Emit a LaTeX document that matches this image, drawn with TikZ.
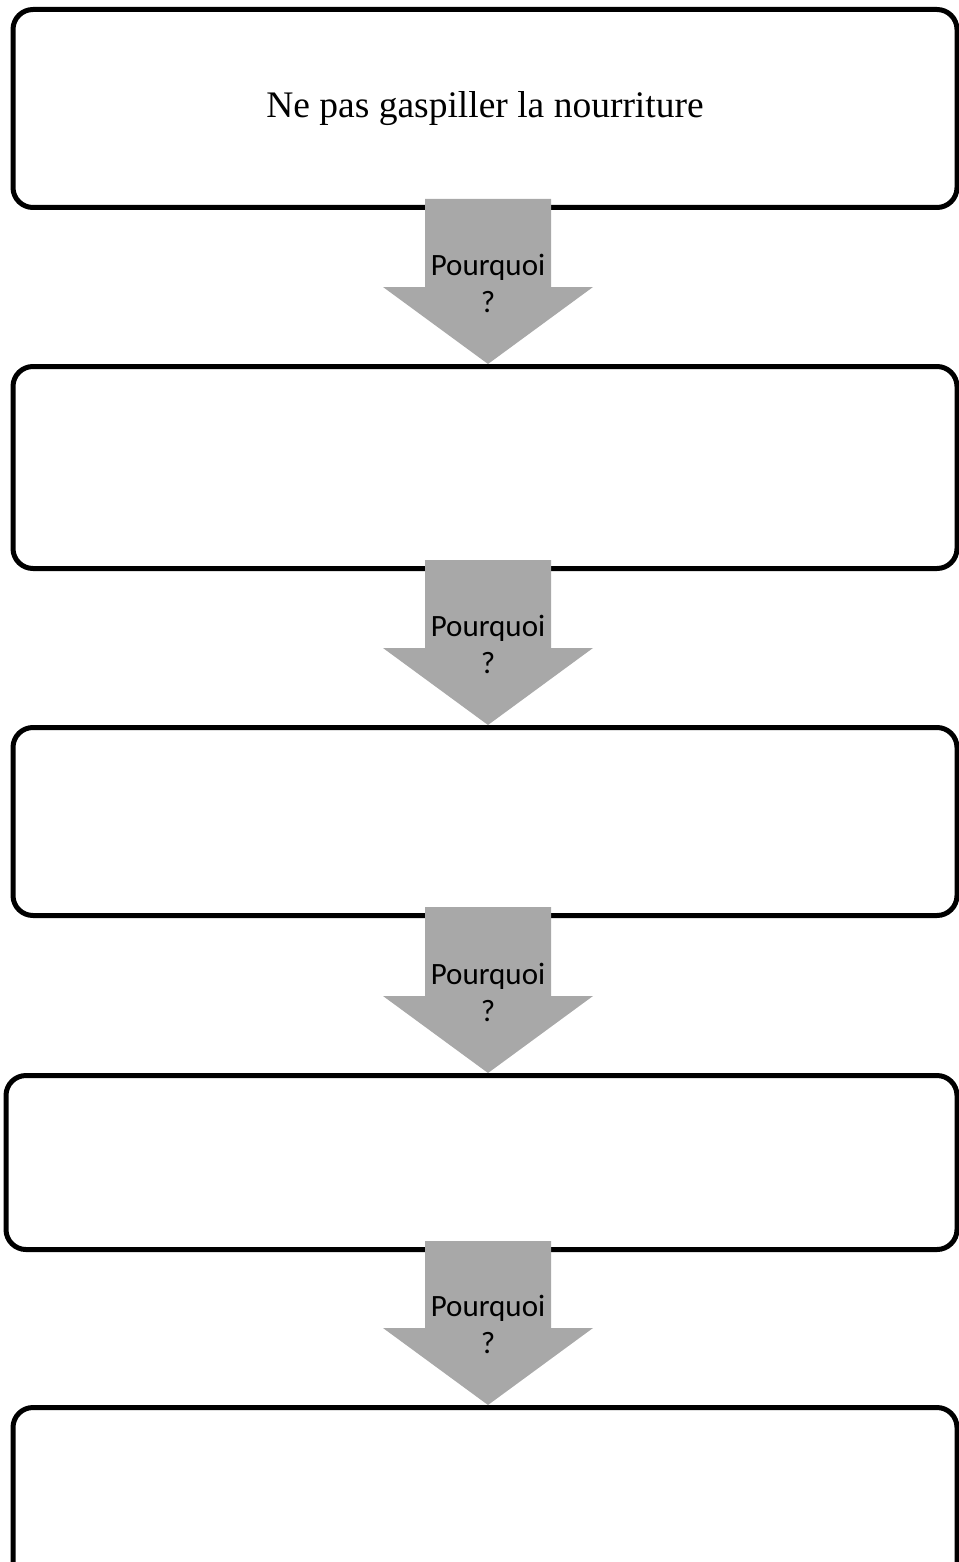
\documentclass[tikz,border=0pt]{standalone}
\usepackage{fontspec}
\setmainfont{Liberation Serif}
\newfontfamily\whyfont{Carlito}
\usetikzlibrary{calc}

\definecolor{whygray}{HTML}{A8A8A8}

\tikzset{
  answer/.style={draw, line width=5pt, rounded corners=20pt, inner sep=0pt,
    minimum width=944pt},
  whyfill/.style={fill=whygray},
  why/.style={inner sep=0pt, align=center, font=\whyfont\fontsize{31}{37}\selectfont},
}

\begin{document}
\begin{tikzpicture}[x=1pt,y=-1pt]
  \useasboundingbox (0,0) rectangle (958,1562);

  \node [answer,minimum height=198pt] (b1) at (485,108.5)
    {\fontsize{37.5}{44}\selectfont Ne pas gaspiller la nourriture};
  \node [answer,minimum height=202pt] (b2) at (485,467.5) {};
  \node [answer,minimum height=188pt] (b3) at (485,821.5) {};
  \node [answer,minimum height=174pt,minimum width=951pt] (b4) at (481.5,1162.5) {};
  \node [answer,minimum height=200pt] (b5) at (485,1507.5) {};

  \coordinate (axis) at (488,0);

  \foreach \a/\b in {b1/b2,b2/b3,b3/b4,b4/b5} {
    \coordinate (top) at ($(\a.south -| axis)+(0,-11)$);
    \coordinate (tip) at (\b.north -| axis);
    \fill [whyfill] ($(top)+(-63,0)$) -- ($(top)+(63,0)$) -- ($(tip)+(63,-77)$)
      -- ($(tip)+(105,-77)$) -- (tip) -- ($(tip)+(-105,-77)$)
      -- ($(tip)+(-63,-77)$) -- cycle;
    \node [why] (why\a) at ($(tip)+(0,-81)$) {Pourquoi\\?};
  }

\end{tikzpicture}
\end{document}
